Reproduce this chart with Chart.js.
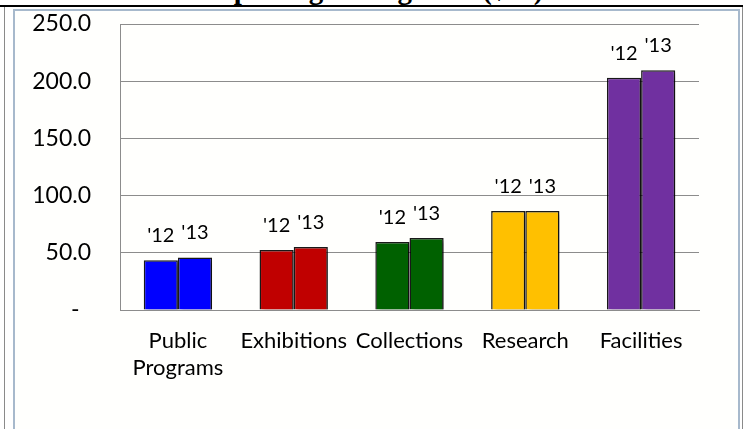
<!DOCTYPE html>
<html>
<head>
<meta charset="utf-8">
<script src="https://cdn.jsdelivr.net/npm/chart.js@4"></script>
<style>
  html, body { margin: 0; padding: 0; background: #fff; }
  body { width: 746px; height: 429px; position: relative; overflow: hidden; }
  #title {
    position: absolute; left: 0; width: 746px; top: -27px;
    text-align: center; font: bold 29px "Liberation Serif", serif; color: #000;
    white-space: nowrap;
  }
  #rule { position: absolute; left: 0; top: 5px; width: 743px; height: 2px; background: #000; }
  #sideL { position: absolute; left: 4px; top: 7px; width: 1px; height: 430px; background: #8a8a8a; }
  #sideR { position: absolute; left: 742px; top: 7px; width: 1px; height: 430px; background: #8a8a8a; }
  #box {
    position: absolute; left: 13px; top: 9px; width: 723px; height: 440px;
    border: 2px solid #a7b9cc; background: #fffffd;
  }
  #budget { position: absolute; left: 0; top: 0; width: 746px; height: 429px; }
</style>
</head>
<body>
<div id="title">Top Budget Programs ($M)</div>
<div id="rule"></div>
<div id="sideL"></div>
<div id="sideR"></div>
<div id="box"></div>
<canvas id="budget" width="746" height="429"></canvas>
<script>
// programs and spending per fiscal year
var programs = [['Public', 'Programs'], 'Exhibitions', 'Collections', 'Research', 'Facilities'];
var fy12 = [43.5, 52.5, 59.5, 86.5, 203.0];
var fy13 = [46.0, 55.0, 63.0, 86.5, 209.5];
var yearLabels = ["'12", "'13"];
var barColors = ['#0000ff', '#c00000', '#006100', '#ffc000', '#7030a0'];
var yTicks = [0, 50, 100, 150, 200, 250];

// drop shadow behind the bars
var barShadow = {
  id: 'barShadow',
  beforeDatasetsDraw: function(chart) {
    var ctx = chart.ctx;
    ctx.save();
    ctx.shadowColor = 'rgba(0,0,0,0.35)';
    ctx.shadowOffsetX = 3;
    ctx.shadowOffsetY = 3;
    ctx.shadowBlur = 4;
  },
  afterDatasetsDraw: function(chart) {
    chart.ctx.restore();
  }
};

// year tag above each bar
var yearTags = {
  id: 'yearTags',
  afterDraw: function(chart) {
    var ctx = chart.ctx;
    ctx.save();
    ctx.font = '20px Lato';
    ctx.fillStyle = '#000';
    ctx.textAlign = 'center';
    ctx.textBaseline = 'alphabetic';
    chart.data.datasets.forEach(function(ds, i) {
      chart.getDatasetMeta(i).data.forEach(function(bar) {
        ctx.fillText(ds.label, bar.x, bar.y - 18);
      });
    });
    ctx.restore();
  }
};

var ctx = document.getElementById('budget').getContext('2d');
var chart = new Chart(ctx, {
  type: 'bar',
  data: {
    labels: programs,
    datasets: [{
      label: yearLabels[0],
      data: fy12,
      backgroundColor: barColors,
      borderColor: 'rgba(0,0,0,0.9)',
      borderWidth: 1.5
    }, {
      label: yearLabels[1],
      data: fy13,
      backgroundColor: barColors,
      borderColor: 'rgba(0,0,0,0.9)',
      borderWidth: 1.5
    }]
  },
  options: {
    responsive: false,
    animation: false,
    devicePixelRatio: 1,
    layout: { padding: { left: 20, right: 47, top: 24, bottom: 0 } },
    datasets: { bar: { categoryPercentage: 0.59, barPercentage: 1.0 } },
    plugins: { legend: { display: false }, tooltip: { enabled: false } },
    scales: {
      x: {
        grid: { display: false, drawTicks: false },
        border: { display: true, color: '#8c8c8c', width: 1 },
        ticks: { color: '#000', font: { family: 'Lato', size: 22, lineHeight: 1.2 }, padding: 18, maxRotation: 0, autoSkip: false },
        afterFit: function(scale) { scale.height = 119; }
      },
      y: {
        min: 0,
        max: 250,
        afterBuildTicks: function(scale) {
          scale.ticks = yTicks.map(function(v) { return { value: v }; });
        },
        grid: { color: '#8c8c8c', lineWidth: 1, drawTicks: false },
        border: { display: true, color: '#8c8c8c', width: 1 },
        ticks: {
          color: '#000',
          font: { family: 'Lato', size: 23 },
          padding: 29,
          callback: function(v) { return v === 0 ? '-\u2002' : v.toFixed(1); }
        },
        afterFit: function(scale) {
          scale.width = 100;
          // label padding is horizontal only, keep the plot top where the layout puts it
          scale.paddingTop = 0;
          scale.paddingBottom = 0;
        }
      }
    }
  },
  plugins: [barShadow, yearTags]
});
</script>
</body>
</html>
